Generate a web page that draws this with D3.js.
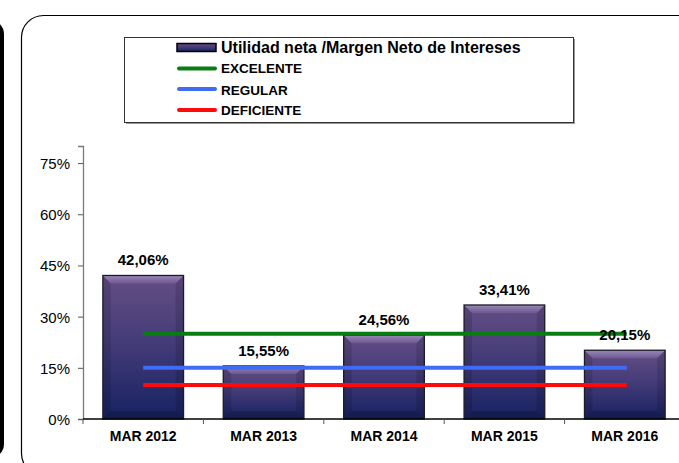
<!DOCTYPE html>
<html>
<head>
<meta charset="utf-8">
<script src="https://cdn.jsdelivr.net/npm/d3@7"></script>
<style>
  body { margin: 0; background: #fff; }
  svg { display: block; font-family: "Liberation Sans", Arial, sans-serif; }
</style>
</head>
<body>
<svg id="chart"></svg>
<script>
const WIDTH = 679;
const HEIGHT = 463;

const categories = ["MAR 2012", "MAR 2013", "MAR 2014", "MAR 2015", "MAR 2016"];
const values = [42.06, 15.55, 24.56, 33.41, 20.15];
const yTicks = [0, 15, 30, 45, 60, 75];
const thresholdNames = ["EXCELENTE", "REGULAR", "DEFICIENTE"];
const thresholdValues = [25, 15, 10];
const thresholdColors = ["#0a7d12", "#3f6cf5", "#ff0a0a"];
const seriesName = "Utilidad neta /Margen Neto de Intereses";

const PLOT = { left: 83, right: 685, top: 146, bottom: 419 };
const fmt = (v) => d3.format(".2f")(v).replace(".", ",") + "%";

const svg = d3.select("#chart").attr("width", WIDTH).attr("height", HEIGHT);

const defs = svg.append("defs");
const barGrad = defs.append("linearGradient")
  .attr("id", "barGrad").attr("x1", 0).attr("y1", 0).attr("x2", 0).attr("y2", 1);
barGrad.append("stop").attr("offset", "0%").attr("stop-color", "#644e86");
barGrad.append("stop").attr("offset", "45%").attr("stop-color", "#453c78");
barGrad.append("stop").attr("offset", "100%").attr("stop-color", "#172262");

const topGrad = defs.append("linearGradient")
  .attr("id", "topGrad").attr("x1", 0).attr("y1", 0).attr("x2", 0).attr("y2", 1);
topGrad.append("stop").attr("offset", "0%").attr("stop-color", "#9a88b8");
topGrad.append("stop").attr("offset", "100%").attr("stop-color", "#6d5890");

// panels
svg.append("rect")
  .attr("x", -30).attr("y", 22).attr("width", 32).attr("height", 434)
  .attr("rx", 12).attr("fill", "none").attr("stroke", "#000").attr("stroke-width", 4);

svg.append("rect")
  .attr("x", 21.5).attr("y", 15.5).attr("width", 690).attr("height", 460)
  .attr("rx", 22).attr("fill", "#fff").attr("stroke", "#000").attr("stroke-width", 1.2);

const x = d3.scaleBand()
  .domain(categories)
  .range([PLOT.left, PLOT.right])
  .paddingInner(0.33)
  .paddingOuter(0.165);

const y = d3.scaleLinear().domain([0, 80]).range([PLOT.bottom, PLOT.top]);

// y axis
const yAxis = svg.append("g").attr("transform", `translate(${PLOT.left},0)`)
  .call(d3.axisLeft(y).tickValues(yTicks).tickSize(5).tickFormat((d) => d + "%"));
yAxis.select(".domain").attr("stroke", "#7a7a7a").attr("stroke-width", 1.3);
yAxis.selectAll(".tick line").attr("stroke", "#555");
yAxis.selectAll(".tick text")
  .attr("x", -13).attr("dy", "0.36em")
  .style("font-size", "15px").style("font-family", "Liberation Sans, Arial").attr("fill", "#000");

// bars
const bw = x.bandwidth();
const bev = 8;
const bars = svg.append("g").selectAll("g").data(values).join("g");

bars.append("rect")
  .attr("x", (d, i) => x(categories[i]))
  .attr("y", (d) => y(d))
  .attr("width", bw)
  .attr("height", (d) => y(0) - y(d))
  .attr("fill", "url(#barGrad)");

bars.append("path")
  .attr("d", (d, i) => {
    const x0 = x(categories[i]), x1 = x0 + bw, t = y(d), b = y(0);
    return `M${x0},${t}L${x0 + bev},${t + bev}L${x0 + bev},${b - bev}L${x0},${b}Z` +
      `M${x1},${t}L${x1 - bev},${t + bev}L${x1 - bev},${b - bev}L${x1},${b}Z`;
  })
  .attr("fill", "#000").attr("fill-opacity", 0.13);

bars.append("path")
  .attr("d", (d, i) => {
    const x0 = x(categories[i]), x1 = x0 + bw, b = y(0);
    return `M${x0},${b}L${x0 + bev},${b - bev}L${x1 - bev},${b - bev}L${x1},${b}Z`;
  })
  .attr("fill", "#000").attr("fill-opacity", 0.2);

bars.append("path")
  .attr("d", (d, i) => {
    const x0 = x(categories[i]), x1 = x0 + bw, t = y(d);
    return `M${x0},${t}L${x1},${t}L${x1 - bev},${t + bev}L${x0 + bev},${t + bev}Z`;
  })
  .attr("fill", "url(#topGrad)");

bars.append("rect")
  .attr("x", (d, i) => x(categories[i]))
  .attr("y", (d) => y(d))
  .attr("width", bw)
  .attr("height", (d) => y(0) - y(d))
  .attr("fill", "none").attr("stroke", "#1b1b28").attr("stroke-width", 1.3);

// x axis
svg.append("line")
  .attr("x1", PLOT.left).attr("x2", WIDTH + 10)
  .attr("y1", y(0)).attr("y2", y(0))
  .attr("stroke", "#000").attr("stroke-width", 1.3);

const step = x.step();
svg.append("g").selectAll("line")
  .data(d3.range(categories.length + 1))
  .join("line")
  .attr("x1", (i) => PLOT.left + i * step).attr("x2", (i) => PLOT.left + i * step)
  .attr("y1", y(0)).attr("y2", y(0) + 5)
  .attr("stroke", "#555");

svg.append("g").selectAll("text")
  .data(categories)
  .join("text")
  .attr("x", (d) => x(d) + bw / 2)
  .attr("y", 441)
  .attr("text-anchor", "middle")
  .style("font-size", "14px").style("font-weight", "bold")
  .text((d) => d);

// threshold lines
const xStart = x(categories[0]) + bw / 2;
const xEnd = x(categories[categories.length - 1]) + bw / 2;
svg.append("g").selectAll("line")
  .data(thresholdValues)
  .join("line")
  .attr("x1", xStart).attr("x2", xEnd + 2)
  .attr("y1", (d) => y(d)).attr("y2", (d) => y(d))
  .attr("stroke", (d, i) => thresholdColors[i])
  .attr("stroke-width", 4);

// value labels
svg.append("g").selectAll("text")
  .data(values)
  .join("text")
  .attr("x", (d, i) => x(categories[i]) + bw / 2)
  .attr("y", (d) => y(d) - 10)
  .attr("text-anchor", "middle")
  .style("font-size", "15px").style("font-weight", "bold")
  .text((d) => fmt(d));

// legend
const legend = svg.append("g");
legend.append("rect")
  .attr("x", 126).attr("y", 39).attr("width", 449).attr("height", 85)
  .attr("fill", "#999");
legend.append("rect")
  .attr("x", 124.5).attr("y", 37.5).attr("width", 449).attr("height", 85)
  .attr("fill", "#fff").attr("stroke", "#333").attr("stroke-width", 1);

legend.append("rect")
  .attr("x", 177).attr("y", 43.5).attr("width", 39).attr("height", 8)
  .attr("fill", "url(#barGrad)").attr("stroke", "#000").attr("stroke-width", 1.5);
legend.append("text")
  .attr("x", 221).attr("y", 53)
  .style("font-size", "16px").style("font-weight", "bold")
  .text(seriesName);

const rowY = [68.5, 89, 110];
const rowBase = [73, 94.5, 115];
thresholdNames.forEach((name, i) => {
  legend.append("line")
    .attr("x1", 179).attr("x2", 215)
    .attr("y1", rowY[i]).attr("y2", rowY[i])
    .attr("stroke", thresholdColors[i]).attr("stroke-width", 4)
    .attr("stroke-linecap", "round");
  legend.append("text")
    .attr("x", 221).attr("y", rowBase[i])
    .style("font-size", "13.5px").style("font-weight", "bold")
    .text(name);
});
</script>
</body>
</html>
